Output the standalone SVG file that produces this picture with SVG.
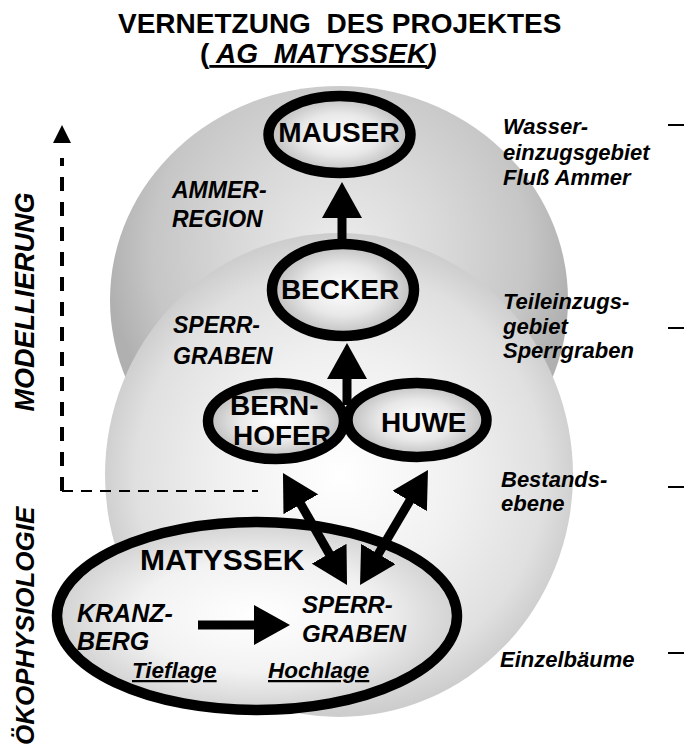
<svg xmlns="http://www.w3.org/2000/svg" width="685" height="746" viewBox="0 0 685 746">
  <defs>
    <radialGradient id="sphereDark" gradientUnits="userSpaceOnUse" cx="340" cy="250" r="235">
      <stop offset="0" stop-color="#ececec"/>
      <stop offset="0.45" stop-color="#d8d8d8"/>
      <stop offset="0.8" stop-color="#c6c6c6"/>
      <stop offset="1" stop-color="#b0b0b0"/>
    </radialGradient>
    <radialGradient id="sphereLight" gradientUnits="userSpaceOnUse" cx="340" cy="474" r="240">
      <stop offset="0" stop-color="#ffffff"/>
      <stop offset="0.5" stop-color="#f0f0f0"/>
      <stop offset="0.85" stop-color="#e0e0e0"/>
      <stop offset="1" stop-color="#cdcdcd"/>
    </radialGradient>
    <radialGradient id="nodeFill" cx="0.5" cy="0.5" r="0.5">
      <stop offset="0" stop-color="#ffffff"/>
      <stop offset="0.55" stop-color="#e8e8e8"/>
      <stop offset="1" stop-color="#bdbdbd"/>
    </radialGradient>
    <radialGradient id="bigFill" cx="0.5" cy="0.5" r="0.5">
      <stop offset="0" stop-color="#ffffff"/>
      <stop offset="0.6" stop-color="#f2f2f2"/>
      <stop offset="1" stop-color="#d2d2d2"/>
    </radialGradient>
    <marker id="head" viewBox="0 0 36 40" refX="16" refY="20" markerWidth="36" markerHeight="40" markerUnits="userSpaceOnUse" orient="auto-start-reverse">
      <path d="M0,0 L36,20 L0,40 Z" fill="#000"/>
    </marker>
  </defs>
  <style>
    .t { font-family: "Liberation Sans", Arial, sans-serif; font-weight: bold; fill: #000; }
    .i { font-style: italic; }
    .ring { stroke: #000; stroke-width: 10.5; }
    .conn { stroke: #000; stroke-width: 9; fill: none; }
    .tick { stroke: #000; stroke-width: 2; }
    .u { text-decoration: underline; }
  </style>

  <!-- background spheres -->
  <ellipse cx="339" cy="300" rx="229" ry="214" fill="url(#sphereDark)"/>
  <ellipse cx="339" cy="475" rx="234" ry="242" fill="url(#sphereLight)"/>

  <!-- title -->
  <text class="t" x="118" y="33" font-size="28" xml:space="preserve">VERNETZUNG  DES PROJEKTES</text>
  <text class="t" x="200" y="63" font-size="28" xml:space="preserve">(<tspan class="i u"> AG  MATYSSEK</tspan><tspan class="i">)</tspan></text>

  <!-- axis labels -->
  <text class="t i" font-size="27" text-anchor="middle" transform="translate(34,302) rotate(-90)">MODELLIERUNG</text>
  <text class="t i" font-size="26" transform="translate(34,745) rotate(-90)">ÖKOPHYSIOLOGIE</text>

  <!-- dashed modelling axis -->
  <g id="axis">
    <path d="M62,491 V158" stroke="#000" stroke-width="4" stroke-dasharray="14 11" fill="none"/>
    <polygon points="62,125 53,143 71,143" fill="#000"/>
    <path d="M62,491 H258" stroke="#000" stroke-width="2.2" stroke-dasharray="11 8" fill="none"/>
  </g>

  <!-- region labels -->
  <g id="regions">
    <text class="t i" font-size="23" x="172" y="198">AMMER-</text>
    <text class="t i" font-size="23" x="172" y="227">REGION</text>
    <text class="t i" font-size="23" x="173" y="333">SPERR-</text>
    <text class="t i" font-size="23" x="173" y="364">GRABEN</text>
  </g>

  <!-- scale labels on the right -->
  <g id="scales">
    <text class="t i" font-size="22" x="503" y="134">Wasser-</text>
    <text class="t i" font-size="22" x="503" y="160">einzugsgebiet</text>
    <text class="t i" font-size="22" x="503" y="185">Fluß Ammer</text>
    <line class="tick" x1="668" y1="125" x2="684" y2="125"/>
    <text class="t i" font-size="22" x="503" y="309">Teileinzugs-</text>
    <text class="t i" font-size="22" x="503" y="334">gebiet</text>
    <text class="t i" font-size="22" x="503" y="358">Sperrgraben</text>
    <line class="tick" x1="668" y1="328" x2="684" y2="328"/>
    <text class="t i" font-size="22" x="501" y="487">Bestands-</text>
    <text class="t i" font-size="22" x="501" y="511">ebene</text>
    <line class="tick" x1="668" y1="487" x2="684" y2="487"/>
    <text class="t i" font-size="22" x="500" y="667">Einzelbäume</text>
    <line class="tick" x1="668" y1="653" x2="684" y2="653"/>
  </g>

  <!-- nodes -->
  <g id="mauser">
    <ellipse class="ring" cx="339.5" cy="134.5" rx="71" ry="38.5" fill="url(#nodeFill)"/>
    <text class="t" font-size="28" x="339" y="142" text-anchor="middle">MAUSER</text>
  </g>
  <g id="becker">
    <ellipse class="ring" cx="343" cy="290" rx="71" ry="46" fill="url(#nodeFill)"/>
    <text class="t" font-size="28" x="340" y="299" text-anchor="middle">BECKER</text>
  </g>
  <g id="matyssek">
    <ellipse class="ring" cx="257" cy="616" rx="200" ry="94" fill="url(#bigFill)"/>
    <text class="t" font-size="30" x="140" y="570">MATYSSEK</text>
    <text class="t i" font-size="25" x="77" y="622">KRANZ-</text>
    <text class="t i" font-size="25" x="77" y="650">BERG</text>
    <text class="t i" font-size="24" x="302" y="613">SPERR-</text>
    <text class="t i" font-size="24" x="302" y="642">GRABEN</text>
    <text class="t i u" font-size="22.5" x="132" y="678">Tieflage</text>
    <text class="t i u" font-size="22.5" x="268" y="678">Hochlage</text>
  </g>
  <g id="bernhofer">
    <ellipse cx="276" cy="421" rx="68" ry="38" fill="url(#nodeFill)"/>
  </g>
  <g id="huwe">
    <ellipse cx="417" cy="420" rx="69.5" ry="37" fill="url(#nodeFill)"/>
  </g>
  <g id="bernhofer-ring">
    <ellipse class="ring" cx="276" cy="421" rx="68" ry="38" fill="none"/>
    <text class="t" font-size="28" x="230" y="415">BERN-</text>
    <text class="t" font-size="28" x="233" y="445">HOFER</text>
  </g>
  <g id="huwe-ring">
    <ellipse class="ring" cx="417" cy="420" rx="69.5" ry="37" fill="none"/>
    <text class="t" font-size="28" x="381" y="432">HUWE</text>
  </g>

  <!-- connectors -->
  <g id="connectors">
    <line class="conn" x1="342" y1="240" x2="342" y2="202" marker-end="url(#head)"/>
    <line class="conn" x1="347" y1="405" x2="347" y2="363" marker-end="url(#head)"/>
    <line class="conn" x1="292.9" y1="490.4" x2="337.1" y2="567.6" marker-start="url(#head)" marker-end="url(#head)"/>
    <line class="conn" x1="370.2" y1="567.8" x2="417.8" y2="487.2" marker-start="url(#head)" marker-end="url(#head)"/>
    <line class="conn" x1="198" y1="625" x2="270" y2="625" marker-end="url(#head)"/>
  </g>
</svg>
